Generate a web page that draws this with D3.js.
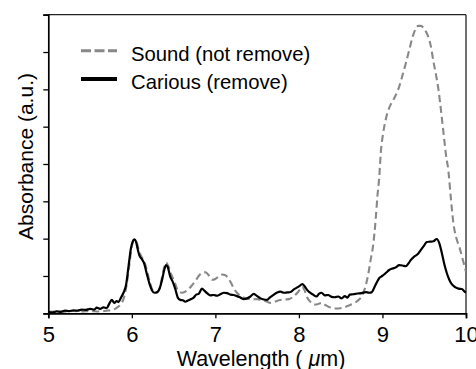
<!DOCTYPE html>
<html><head><meta charset="utf-8">
<script src="https://cdn.jsdelivr.net/npm/d3@7"></script>
<style>html,body{margin:0;padding:0;background:#fff;overflow:hidden}</style>
</head><body>
<svg id="c" width="476" height="369"></svg>
<script>
const xTicks = [5, 6, 7, 8, 9, 10];
const yTicks = [0, 1, 2, 3, 4, 5, 6, 7, 8];
const seriesNames = ["Sound (not remove)", "Carious (remove)"];

const wlSound = [5.00,5.10,5.20,5.30,5.40,5.50,5.60,5.70,5.76,5.80,5.84,5.88,5.91,5.94,5.97,6.00,6.03,6.06,6.09,6.12,6.15,6.18,6.21,6.24,6.27,6.30,6.33,6.36,6.39,6.41,6.44,6.47,6.50,6.53,6.56,6.60,6.64,6.68,6.72,6.76,6.80,6.84,6.88,6.92,6.96,7.00,7.04,7.08,7.12,7.16,7.20,7.24,7.28,7.32,7.38,7.44,7.50,7.56,7.62,7.66,7.70,7.76,7.82,7.88,7.94,7.99,8.04,8.07,8.10,8.14,8.18,8.22,8.27,8.31,8.36,8.42,8.48,8.54,8.60,8.66,8.70,8.74,8.77,8.80,8.83,8.86,8.89,8.92,8.94,8.96,8.98,9.01,9.04,9.08,9.12,9.16,9.20,9.24,9.28,9.32,9.36,9.40,9.43,9.46,9.49,9.52,9.55,9.58,9.61,9.64,9.67,9.70,9.73,9.76,9.79,9.82,9.85,9.88,9.92,9.96,10.00];
const absSound = [0.04,0.05,0.04,0.06,0.05,0.06,0.05,0.07,0.09,0.12,0.18,0.28,0.45,0.80,1.30,1.80,1.95,1.88,1.65,1.50,1.38,1.15,0.88,0.66,0.57,0.56,0.66,0.95,1.25,1.36,1.25,1.05,0.90,0.72,0.58,0.55,0.58,0.65,0.75,0.86,1.00,1.08,1.10,1.02,0.90,0.92,0.99,1.04,1.02,0.92,0.76,0.60,0.50,0.44,0.39,0.37,0.38,0.35,0.31,0.28,0.30,0.35,0.37,0.38,0.46,0.57,0.71,0.60,0.42,0.30,0.23,0.24,0.28,0.23,0.17,0.13,0.13,0.16,0.21,0.27,0.33,0.42,0.54,0.75,1.05,1.45,1.85,2.55,3.15,3.60,4.30,4.85,5.20,5.50,5.68,5.85,6.07,6.38,6.70,7.05,7.40,7.63,7.70,7.70,7.65,7.55,7.40,7.15,6.75,6.40,6.00,5.45,4.85,4.25,3.80,3.05,2.40,2.05,1.78,1.45,1.11];

const wlCarious = [5.00,5.05,5.10,5.15,5.20,5.25,5.30,5.35,5.40,5.45,5.50,5.55,5.58,5.62,5.66,5.70,5.73,5.76,5.79,5.82,5.84,5.87,5.90,5.93,5.96,5.99,6.01,6.03,6.05,6.07,6.09,6.12,6.15,6.18,6.21,6.24,6.27,6.30,6.33,6.36,6.39,6.41,6.43,6.46,6.49,6.52,6.55,6.58,6.61,6.64,6.67,6.70,6.74,6.77,6.80,6.84,6.87,6.90,6.94,6.98,7.02,7.06,7.10,7.14,7.18,7.22,7.26,7.30,7.34,7.38,7.42,7.46,7.50,7.54,7.58,7.62,7.65,7.70,7.74,7.78,7.82,7.86,7.90,7.94,7.97,8.00,8.04,8.07,8.10,8.13,8.17,8.21,8.24,8.27,8.31,8.35,8.39,8.43,8.47,8.51,8.55,8.58,8.61,8.65,8.70,8.75,8.80,8.84,8.87,8.90,8.93,8.96,8.99,9.02,9.05,9.08,9.12,9.16,9.20,9.24,9.28,9.31,9.34,9.38,9.42,9.46,9.50,9.53,9.57,9.61,9.65,9.68,9.71,9.74,9.77,9.80,9.83,9.87,9.91,9.95,9.98,10.00];
const absCarious = [0.03,0.02,0.05,0.04,0.07,0.06,0.08,0.07,0.10,0.09,0.12,0.10,0.15,0.12,0.16,0.14,0.26,0.36,0.28,0.33,0.30,0.42,0.55,0.75,1.25,1.75,1.92,1.98,1.92,1.72,1.55,1.45,1.32,1.05,0.80,0.62,0.55,0.56,0.65,0.88,1.18,1.29,1.24,0.98,0.84,0.65,0.42,0.36,0.35,0.31,0.34,0.37,0.42,0.50,0.52,0.66,0.60,0.54,0.48,0.49,0.47,0.51,0.55,0.54,0.50,0.49,0.46,0.42,0.38,0.40,0.45,0.52,0.46,0.40,0.37,0.36,0.42,0.50,0.56,0.58,0.55,0.56,0.57,0.64,0.68,0.72,0.78,0.72,0.62,0.56,0.50,0.45,0.52,0.55,0.48,0.49,0.44,0.43,0.45,0.40,0.46,0.42,0.50,0.51,0.53,0.54,0.57,0.55,0.56,0.68,0.82,0.94,0.99,1.04,1.10,1.16,1.20,1.23,1.29,1.28,1.26,1.33,1.43,1.52,1.58,1.70,1.82,1.91,1.92,1.93,1.99,1.88,1.62,1.32,1.08,0.90,0.78,0.70,0.66,0.65,0.59,0.55];

const L = 48.3, R = 466, T = 14.7, B = 313.3;
const svg = d3.select("#c");
const x = d3.scaleLinear().domain([5, 10]).range([L, R]);
const y = d3.scaleLinear().domain([0, 8]).range([B, T]);
const FONT = "'Liberation Sans', Arial, Helvetica, sans-serif";

// frame (top/right)
svg.append("line").attr("x1", L).attr("x2", R).attr("y1", T).attr("y2", T).attr("stroke", "#222").attr("stroke-width", 1.3);
svg.append("line").attr("x1", R).attr("x2", R).attr("y1", T).attr("y2", B).attr("stroke", "#222").attr("stroke-width", 1.3);

// curves
const line = d3.line().curve(d3.curveMonotoneX).x(d => x(d[0])).y(d => y(d[1]));
const sound = wlSound.map((w, i) => [w, absSound[i]]);
const carious = wlCarious.map((w, i) => [w, absCarious[i]]);
svg.append("clipPath").attr("id", "clp").append("rect")
  .attr("x", L).attr("y", T).attr("width", R - L).attr("height", B - T);
svg.append("path").datum(sound).attr("d", line).attr("fill", "none")
  .attr("stroke", "#888").attr("stroke-width", 2.1).attr("stroke-dasharray", "7,4")
  .attr("clip-path", "url(#clp)");
svg.append("path").datum(carious).attr("d", line).attr("fill", "none")
  .attr("stroke", "#000").attr("stroke-width", 2.2).attr("stroke-linejoin", "round")
  .attr("clip-path", "url(#clp)");

// axes
const xAxis = svg.append("g").attr("transform", `translate(0,${B})`)
  .call(d3.axisBottom(x).tickValues(xTicks).tickFormat(d3.format("d")).tickSizeOuter(0).tickSize(5).tickPadding(8));
const yAxis = svg.append("g").attr("transform", `translate(${L},0)`)
  .call(d3.axisLeft(y).tickValues(yTicks).tickFormat("").tickSizeOuter(0).tickSize(5));
[xAxis, yAxis].forEach(g => {
  g.select(".domain").attr("stroke", "#000").attr("stroke-width", 1.7);
  g.selectAll(".tick line").attr("stroke", "#000").attr("stroke-width", 1.3);
  g.selectAll("text").attr("font-family", FONT).attr("font-size", 22).attr("fill", "#000");
});

// axis titles
const xt = svg.append("text").attr("x", 261).attr("y", 366).attr("text-anchor", "middle")
  .attr("font-family", FONT).attr("font-size", 21.5).attr("fill", "#000");
xt.append("tspan").text("Wavelength ( ");
xt.append("tspan").attr("font-style", "italic").text("μ");
xt.append("tspan").text("m)");
svg.append("text").attr("transform", "translate(33,156.5) rotate(-90)").attr("text-anchor", "middle")
  .attr("font-family", FONT).attr("font-size", 21).attr("fill", "#000").text("Absorbance (a.u.)");

// legend
const leg = [
  {name: seriesNames[0], y: 50.7, color: "#888", w: 3, dash: "10,3.5"},
  {name: seriesNames[1], y: 79, color: "#000", w: 4, dash: null}
];
leg.forEach(d => {
  svg.append("line").attr("x1", 81).attr("x2", 117).attr("y1", d.y).attr("y2", d.y)
    .attr("stroke", d.color).attr("stroke-width", d.w).attr("stroke-dasharray", d.dash);
  svg.append("text").attr("x", 131).attr("y", d.y + 9.8).attr("font-family", FONT)
    .attr("font-size", 20.3).attr("fill", "#000").text(d.name);
});
</script>
</body></html>
